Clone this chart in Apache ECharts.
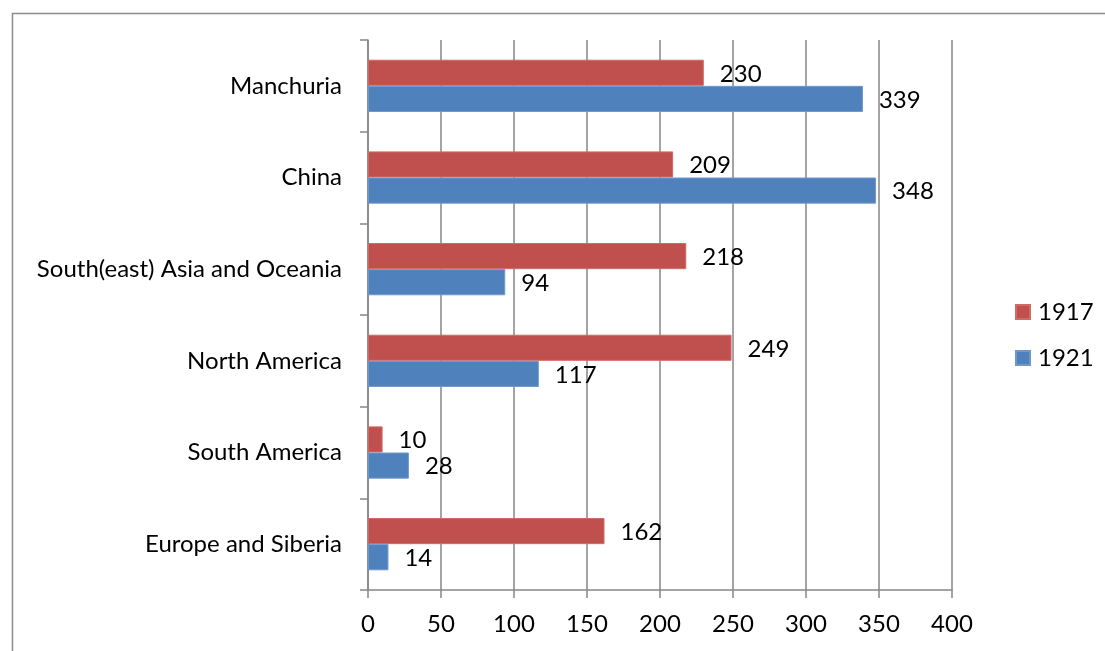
<!DOCTYPE html>
<html>
<head>
<meta charset="utf-8">
<script src="https://cdn.jsdelivr.net/npm/echarts@6/dist/echarts.min.js"></script>
<style>html,body{margin:0;padding:0;background:#fff;}#c{width:1105px;height:651px;}</style>
</head>
<body>
<div id="c"></div>
<script>
const categories = ["Europe and Siberia", "South America", "North America", "South(east) Asia and Oceania", "China", "Manchuria"];
const values1917 = [162, 10, 249, 218, 209, 230];
const values1921 = [14, 28, 117, 94, 348, 339];
const seriesNames = ["1917", "1921"];
const xTicks = [0, 400, 50];

const FONT = "Lato";
const FS = 24;
const chart = echarts.init(document.getElementById('c'), null, {renderer: 'canvas'});
const axisGray = '#868686';
chart.setOption({
  animation: false,
  backgroundColor: '#fff',
  textStyle: {fontFamily: FONT},
  graphic: [{
    type: 'rect', left: 10, top: 11, silent: true,
    shape: {width: 1200, height: 700},
    style: {fill: 'none', stroke: '#8c8c8c', lineWidth: 1.5}
  }],
  grid: {left: 368, right: 153, top: 40, bottom: 61, containLabel: false},
  legend: {
    orient: 'vertical', left: 1010, top: 295,
    itemWidth: 14, itemHeight: 14, itemGap: 22,
    icon: 'rect',
    data: seriesNames,
    textStyle: {fontFamily: FONT, fontSize: FS, color: '#000', padding: [0, 0, 0, 3]}
  },
  xAxis: {
    type: 'value', min: xTicks[0], max: xTicks[1], interval: xTicks[2],
    axisLine: {show: true, lineStyle: {color: axisGray, width: 1.5}},
    axisTick: {show: true, length: 8, lineStyle: {color: axisGray, width: 1.5}},
    splitLine: {show: true, lineStyle: {color: axisGray, width: 1.5}},
    axisLabel: {fontFamily: FONT, fontSize: FS, color: '#000', margin: 22}
  },
  yAxis: {
    type: 'category', data: categories,
    axisLine: {show: true, lineStyle: {color: axisGray, width: 1.5}},
    axisTick: {show: true, length: 8, lineStyle: {color: axisGray, width: 1.5}},
    axisLabel: {fontFamily: FONT, fontSize: FS, color: '#000', margin: 26}
  },
  series: [
    {
      name: seriesNames[0], type: 'bar', data: values1917,
      barGap: '0%', barCategoryGap: '43%',
      itemStyle: {color: '#C0504D', borderColor: '#d06a67', borderWidth: 1},
      label: {show: true, position: 'right', distance: 16, offset: [0, 1], fontFamily: FONT, fontSize: FS, color: '#000'}
    },
    {
      name: seriesNames[1], type: 'bar', data: values1921,
      barGap: '0%', barCategoryGap: '43%',
      itemStyle: {color: '#4F81BD', borderColor: '#6e98cc', borderWidth: 1},
      label: {show: true, position: 'right', distance: 16, offset: [0, 1], fontFamily: FONT, fontSize: FS, color: '#000'}
    }
  ]
});
</script>
</body>
</html>
